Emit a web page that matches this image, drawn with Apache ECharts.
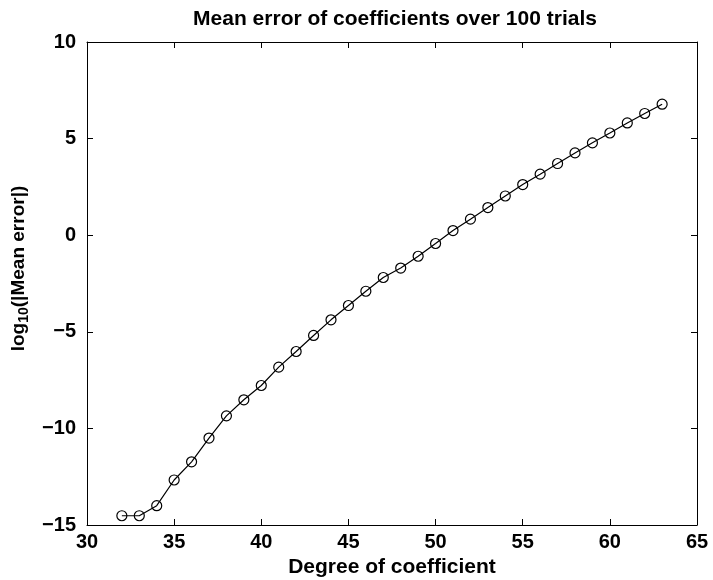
<!DOCTYPE html>
<html>
<head>
<meta charset="utf-8">
<script src="https://cdn.jsdelivr.net/npm/echarts@6/dist/echarts.min.js"></script>
<style>
  html, body { margin: 0; padding: 0; background: #fff; }
  #chart { width: 713px; height: 580px; }
</style>
</head>
<body>
<div id="chart"></div>
<script>
// Polynomial degree of each coefficient
const degrees = [32, 33, 34, 35, 36, 37, 38, 39, 40, 41, 42, 43, 44, 45, 46, 47,
                 48, 49, 50, 51, 52, 53, 54, 55, 56, 57, 58, 59, 60, 61, 62, 63];
// log10 of the mean absolute error over 100 trials
const logMeanError = [-14.52, -14.52, -14.00, -12.67, -11.73, -10.50, -9.35, -8.52,
                      -7.78, -6.83, -6.02, -5.19, -4.38, -3.64, -2.90, -2.19,
                      -1.70, -1.09, -0.43, 0.24, 0.83, 1.43, 2.03, 2.62,
                      3.16, 3.71, 4.26, 4.78, 5.29, 5.81, 6.30, 6.78];
const xTicks = [30, 35, 40, 45, 50, 55, 60, 65];
const yTicks = [-15, -10, -5, 0, 5, 10];

const font = '"Liberation Sans", Arial, Helvetica, sans-serif';
const axisLine = { show: true, onZero: false, lineStyle: { color: '#000', width: 1 } };
const tickIn = { show: true, inside: true, length: 6, lineStyle: { color: '#000', width: 1 } };
const labelStyle = { color: '#000', fontFamily: font, fontWeight: 'bold', fontSize: 20 };

const chart = echarts.init(document.getElementById('chart'), null, { renderer: 'canvas' });
chart.setOption({
  backgroundColor: '#fff',
  animation: false,
  title: {
    text: 'Mean error of coefficients over 100 trials',
    left: 390, top: 4, textAlign: 'center',
    textStyle: { color: '#000', fontFamily: font, fontWeight: 'bold', fontSize: 21 }
  },
  grid: { left: 87, right: 16, top: 42, bottom: 55, outerBoundsMode: 'none', containLabel: false },
  xAxis: [
    {
      type: 'value', min: xTicks[0], max: xTicks[xTicks.length - 1], interval: 5,
      position: 'bottom',
      axisLine, axisTick: tickIn, splitLine: { show: false },
      axisLabel: Object.assign({ margin: 7 }, labelStyle),
      name: 'Degree of coefficient', nameLocation: 'middle', nameGap: 29,
      nameTextStyle: { color: '#000', fontFamily: font, fontWeight: 'bold', fontSize: 21 }
    },
    {
      type: 'value', min: xTicks[0], max: xTicks[xTicks.length - 1], interval: 5,
      position: 'top',
      axisLine, axisTick: tickIn, axisLabel: { show: false }, splitLine: { show: false }
    }
  ],
  yAxis: [
    {
      type: 'value', min: yTicks[0], max: yTicks[yTicks.length - 1], interval: 5,
      position: 'left',
      axisLine, axisTick: tickIn, splitLine: { show: false },
      axisLabel: Object.assign({
        margin: 11,
        formatter: v => (v < 0 ? '\u2212' + Math.abs(v) : String(v))
      }, labelStyle),
      name: '{a|log}{s|10}{a|(|Mean error|)}',
      nameLocation: 'middle', nameGap: 56, nameRotate: 90,
      nameTextStyle: {
        color: '#000',
        padding: [0, 0, 0, 30],
        rich: {
          a: { fontFamily: font, fontWeight: 'bold', fontSize: 19, color: '#000' },
          s: { fontFamily: font, fontWeight: 'bold', fontSize: 14, color: '#000', padding: [10, 0, 0, 0] }
        }
      }
    },
    {
      type: 'value', min: yTicks[0], max: yTicks[yTicks.length - 1], interval: 5,
      position: 'right',
      axisLine, axisTick: tickIn, axisLabel: { show: false }, splitLine: { show: false }
    }
  ],
  series: [{
    type: 'line',
    data: degrees.map((d, i) => [d, logMeanError[i]]),
    symbol: 'circle', symbolSize: 10,
    itemStyle: { color: 'rgba(255,255,255,0)', borderColor: '#000', borderWidth: 1.2 },
    lineStyle: { color: '#000', width: 1.2 },
    emphasis: { disabled: true }
  }]
});
</script>
</body>
</html>
